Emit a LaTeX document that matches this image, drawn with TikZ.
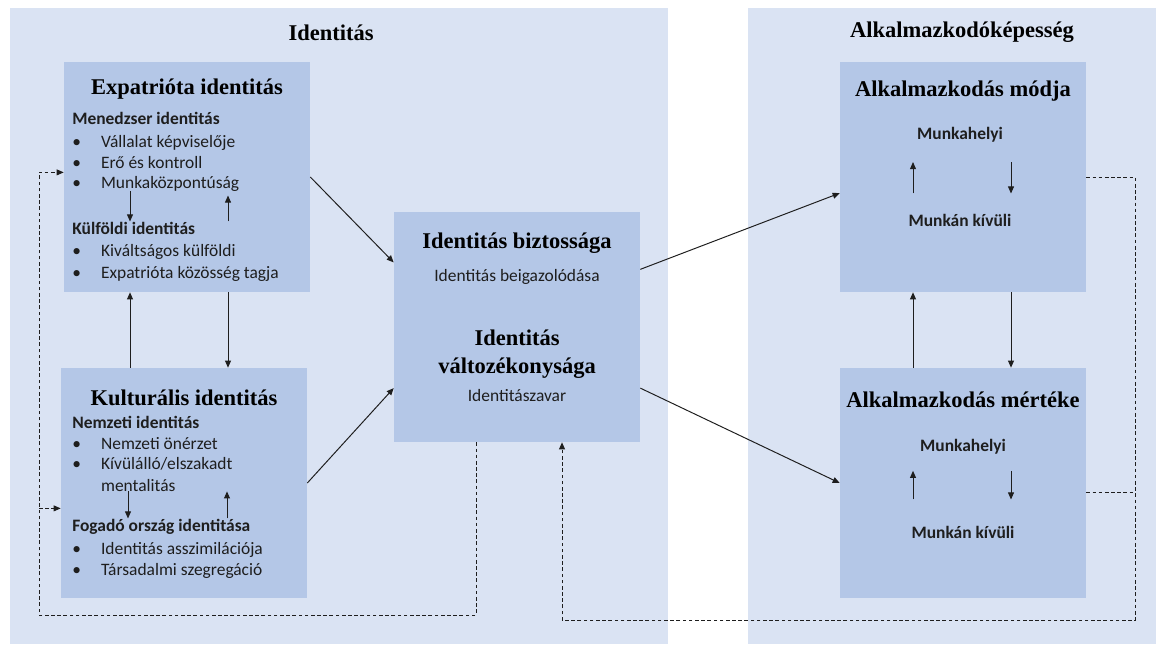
\documentclass[tikz,border=0pt]{standalone}
\usepackage{fontspec}
\setmainfont{Liberation Serif}
\newfontfamily\calibri{Carlito}
\usetikzlibrary{arrows.meta, positioning, calc}
\definecolor{panelblue}{HTML}{DAE3F3}
\definecolor{boxblue}{HTML}{B4C7E7}
\definecolor{inkgray}{HTML}{1E1E1E}
\newcommand{\bul}[1]{\makebox[0.72cm][l]{•}#1}

\begin{document}
\begin{tikzpicture}[
        x=0.025cm, y=-0.025cm,
        panel/.style={fill=panelblue, draw=none, inner sep=0pt},
        box/.style={fill=boxblue, draw=none, inner sep=0pt, minimum width=6.15cm, minimum height=5.75cm},
        head/.style={font=\fontsize{16}{18}\selectfont\bfseries, anchor=base, inner sep=0pt},
        sub/.style={font=\calibri\fontsize{12.4}{14}\selectfont\bfseries, text=inkgray, anchor=base west, inner sep=0pt},
        item/.style={font=\calibri\fontsize{12.4}{14}\selectfont, text=inkgray, anchor=base west, inner sep=0pt},
        csub/.style={sub, anchor=base},
        citem/.style={item, anchor=base},
        arr/.style={draw=inkgray, line width=0.7pt, -{Triangle[length=5pt, width=4.2pt]}},
        midarr/.style={arr, shorten <=0.5cm, shorten >=0.5cm},
        dashline/.style={draw=inkgray, line width=0.7pt, dash pattern=on 2.6pt off 1.8pt}
      ]
      \useasboundingbox (0,0) rectangle (1156,644);

      % Panels and boxes
      \node[panel, minimum width=16.45cm, minimum height=15.9cm] (leftpanel) at (339,326) {};
      \node[panel, minimum width=10.2cm, minimum height=15.9cm] (rightpanel) at (952,326) {};
      \node[box] (expat) at (187,177) {};
      \node[box] (kultur) at (184,483) {};
      \node[box] (biztos) at (517,327) {};
      \node[box] (modja) at (963,177) {};
      \node[box] (mertek) at (963,483) {};

      % Panel titles
      \node[head] (idtitle) at (331,41) {Identitás};
      \node[head] (alktitle) at (962,38) {Alkalmazkodóképesség};

      % Expatrióta identitás
      \node[head] (exptitle) at (187,95) {Expatrióta identitás};
      \node[sub] (men) at (72,124) {Menedzser identitás};
      \node[item] (men1) at (72,147) {\bul{Vállalat képviselője}};
      \node[item] (men2) at (72,168) {\bul{Erő és kontroll}};
      \node[item] (men3) at (72,188) {\bul{Munkaközpontúság}};
      \node[sub] (kulf) at (72,234) {Külföldi identitás};
      \node[item] (kulf1) at (72,256) {\bul{Kiváltságos külföldi}};
      \node[item] (kulf2) at (72,278) {\bul{Expatrióta közösség tagja}};

      % Kulturális identitás
      \node[head] (kultitle) at (184,405) {Kulturális identitás};
      \node[sub] (nemz) at (72,428) {Nemzeti identitás};
      \node[item] (nemz1) at (72,449) {\bul{Nemzeti önérzet}};
      \node[item] (nemz2) at (72,469) {\bul{Kívülálló/elszakadt}};
      \node[item] (nemz3) at (100.8,491) {mentalitás};
      \node[sub] (fog) at (72,531) {Fogadó ország identitása};
      \node[item] (fog1) at (72,554) {\bul{Identitás asszimilációja}};
      \node[item] (fog2) at (72,575) {\bul{Társadalmi szegregáció}};

      % Identitás biztossága / változékonysága
      \node[head] (bizttitle) at (517,248) {Identitás biztossága};
      \node[citem] (beig) at (517,281) {Identitás beigazolódása};
      \node[head] (valt1) at (517,345) {Identitás};
      \node[head] (valt2) at (517,373) {változékonysága};
      \node[citem] (zavar) at (517,401) {Identitászavar};

      % Alkalmazkodás
      \node[head] (modtitle) at (963,97) {Alkalmazkodás módja};
      \node[csub] (mh1) at (960,139) {Munkahelyi};
      \node[csub] (mk1) at (960,226) {Munkán kívüli};
      \node[head] (merttitle) at (963,407) {Alkalmazkodás mértéke};
      \node[csub] (mh2) at (963,451) {Munkahelyi};
      \node[csub] (mk2) at (963,538) {Munkán kívüli};

      % Helper columns and corners
      \coordinate (xa) at (130,0);
      \coordinate (xb) at (228,0);
      \coordinate (xc) at (128,0);
      \coordinate (xd) at (227,0);
      \coordinate (xe) at (913,0);
      \coordinate (xf) at (1011,0);
      \coordinate (xg) at (476,0);
      \coordinate (xh) at (562,0);
      \coordinate (lb) at (39,615);
      \coordinate (rb) at (1135,620);
      \coordinate (expin) at ($(expat.north west)!0.48!(expat.south west)$);
      \coordinate (kulin) at ($(kultur.north west)!0.61!(kultur.south west)$);
      \coordinate (mertout) at ($(mertek.north east)!0.54!(mertek.south east)$);

      % Inner arrows
      \draw[arr] (men3.south -| xa) -- (kulf.north -| xa);
      \draw[arr, shorten >=3pt] (kulf.north -| xb) -- (men3.south -| xb);
      \draw[arr] (nemz3.south -| xc) -- (fog.north -| xc);
      \draw[arr] (fog.north -| xd) -- (nemz3.south -| xd);
      \draw[midarr] (mk1.north -| xe) -- (mh1.south -| xe);
      \draw[midarr] (mh1.south -| xf) -- (mk1.north -| xf);
      \draw[arr, shorten <=0.65cm, shorten >=0.42cm] (mk2.north -| xe) -- (mh2.south -| xe);
      \draw[arr, shorten <=0.42cm, shorten >=0.65cm] (mh2.south -| xf) -- (mk2.north -| xf);

      % Edges
      \draw[arr] (expat.east) -- ($(biztos.north west)!0.22!(biztos.south west)$);
      \draw[arr] (kultur.east) -- ($(biztos.north west)!0.765!(biztos.south west)$);
      \draw[arr] ($(biztos.north east)!0.25!(biztos.south east)$) -- ($(modja.north west)!0.57!(modja.south west)$);
      \draw[arr] ($(biztos.north east)!0.765!(biztos.south east)$) -- (mertek.west);
      \draw[arr] (kultur.north -| xa) -- (expat.south -| xa);
      \draw[arr] (expat.south -| xb) -- (kultur.north -| xb);
      \draw[arr] (mertek.north -| xe) -- (modja.south -| xe);
      \draw[arr] (modja.south -| xf) -- (mertek.north -| xf);

      % Feedback loops
      \draw[dashline, arr] (biztos.south -| xg) |- (lb) |- (expin);
      \draw[dashline, arr] (lb |- kulin) -- (kulin);
      \draw[dashline, arr] (modja.east) -| (rb) -| (biztos.south -| xh);
      \draw[dashline] (mertout) -- (rb |- mertout);
    \end{tikzpicture}
\end{document}
